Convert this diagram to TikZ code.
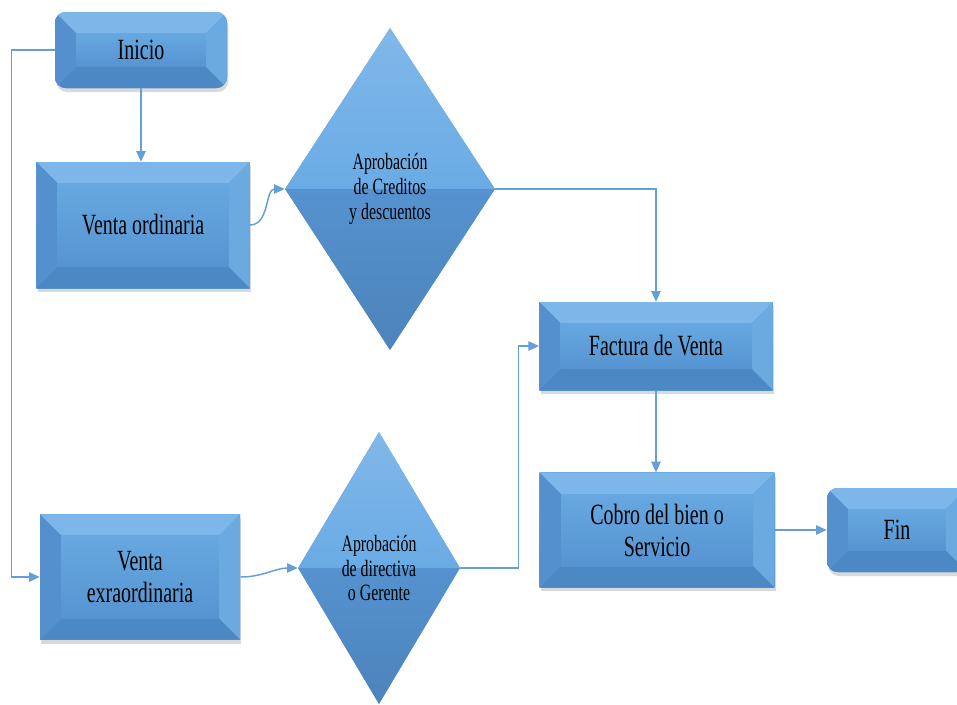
\documentclass[tikz,border=0pt]{standalone}
\usepackage{fontspec}
\setmainfont{Liberation Serif}[FakeStretch=0.68]
\usepackage{tikz}
\usetikzlibrary{shapes.geometric, arrows.meta, calc, shadows}

\definecolor{facecol}{HTML}{5C9CD7}
\definecolor{facetop}{HTML}{68A8E0}
\definecolor{facebot}{HTML}{5594D1}
\definecolor{toplight}{HTML}{7DB6E9}
\definecolor{sidelight}{HTML}{6BA9E1}
\definecolor{sidedark}{HTML}{5390CD}
\definecolor{botdark}{HTML}{4C88C4}
\definecolor{diamup}{HTML}{6AABE5}
\definecolor{diamlo}{HTML}{5592CF}
\definecolor{linecol}{HTML}{649FD8}

\newlength{\bvin}\setlength{\bvin}{16pt}

% bisel de las cajas rectangulares
\newcommand{\bevelrect}{%
  \begin{scope}[sharp corners]
  \coordinate (bA) at (path picture bounding box.north west);
  \coordinate (bB) at (path picture bounding box.north east);
  \coordinate (bC) at (path picture bounding box.south east);
  \coordinate (bD) at (path picture bounding box.south west);
  \shade[top color=facetop, bottom color=facebot] (bA) rectangle (bC);
  \fill[toplight] (bA) -- (bB) -- ($(bB)+(-\bvin,-\bvin)$) -- ($(bA)+(\bvin,-\bvin)$) -- cycle;
  \fill[sidelight] (bB) -- (bC) -- ($(bC)+(-\bvin,\bvin)$) -- ($(bB)+(-\bvin,-\bvin)$) -- cycle;
  \fill[botdark] (bC) -- (bD) -- ($(bD)+(\bvin,\bvin)$) -- ($(bC)+(-\bvin,\bvin)$) -- cycle;
  \fill[sidedark] (bD) -- (bA) -- ($(bA)+(\bvin,-\bvin)$) -- ($(bD)+(\bvin,\bvin)$) -- cycle;
  \shade[top color=facetop, bottom color=facebot]
    ($(bA)+(\bvin,-\bvin)$) rectangle ($(bC)+(-\bvin,\bvin)$);
  \end{scope}}

% caras de los rombos: mitad de arriba clara, de abajo oscura
\newcommand{\beveldiam}{%
  \coordinate (dN) at (path picture bounding box.north);
  \coordinate (dE) at (path picture bounding box.east);
  \coordinate (dS) at (path picture bounding box.south);
  \coordinate (dW) at (path picture bounding box.west);
  \shade[top color=diamup!85!white, bottom color=diamup] (dW) -- (dN) -- (dE) -- cycle;
  \shade[top color=diamlo, bottom color=diamlo!90!black] (dW) -- (dS) -- (dE) -- cycle;}

\tikzset{
  % --- Procesos ----------------------------------------------
  proc/.style={rectangle, fill=facecol, path picture={\bevelrect},
    drop shadow={opacity=0.3, shadow xshift=1pt, shadow yshift=-3pt},
    align=center, inner sep=2pt, font=\fontsize{22}{24}\selectfont},
  term/.style={proc, rounded corners=8pt},
  % --- Decisiones --------------------------------------------
  dec/.style={diamond, fill=facecol, path picture={\beveldiam},
    align=center, inner sep=0pt, font=\fontsize{17.5}{18.5}\selectfont},
  % --- Flechas -----------------------------------------------
  conn/.style={draw=linecol, line width=1.1pt,
    -{Triangle[length=8pt,width=7pt]}}
}

\begin{document}
\begin{tikzpicture}[x=0.75pt, y=-0.75pt]
  \useasboundingbox (0,0) rectangle (957,704);
  \clip (0,0) rectangle (957,704);

  % --- Columna izquierda ---------------------------------------
  \node[term, minimum width=129pt, minimum height=57pt] (INI) at (141,50) {Inicio};
  \node[proc, minimum width=160pt, minimum height=94.5pt] (VO) at (143,225) {Venta ordinaria};
  \node[proc, minimum width=150pt, minimum height=94pt] (VE) at (140,577) {Venta\\exraordinaria};

  % --- Aprobaciones ----------------------------------------------
  \node[dec, minimum width=157.5pt, minimum height=241.5pt] (AC) at (390,189)
    {Aprobación\\de Creditos\\y descuentos};
  \node[dec, minimum width=121.5pt, minimum height=204pt] (AG) at (379,568)
    {Aprobación\\de directiva\\o Gerente};

  % --- Factura, cobro y fin ---------------------------------------
  \node[proc, minimum width=175pt, minimum height=66pt] (FV) at (656,346) {Factura de Venta};
  \node[proc, minimum width=176pt, minimum height=86pt] (CB) at (657,530) {Cobro del bien o\\Servicio};
  \node[term, minimum width=105pt, minimum height=63pt] (FIN) at (897,530) {Fin};

  % --- Flechas ----------------------------------------------------
  \draw[conn] (INI.south) -- (INI.south |- VO.north);
  \draw[conn] (INI.west) -- ++(-43,0) |- (VE.west);
  \draw[conn] (VO.east) to[out=0, in=180] (AC.west);
  \draw[conn] (VE.east) to[out=0, in=180] (AG.west);
  \draw[conn] (AC.east) -| (FV.north);
  \draw[conn] (AG.east) -- ++(58,0) |- (FV.west);
  \draw[conn] (FV.south) -- (FV.south |- CB.north);
  \draw[conn] (CB.east) -- (FIN.west);

\end{tikzpicture}
\end{document}
